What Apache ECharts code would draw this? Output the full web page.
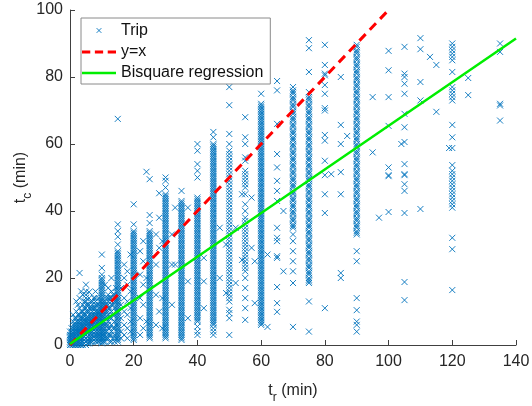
<!DOCTYPE html>
<html><head><meta charset="utf-8">
<script src="https://cdn.jsdelivr.net/npm/echarts@6/dist/echarts.min.js"></script>
<style>html,body{margin:0;padding:0;background:#fff}#c{width:532px;height:406px}</style>
</head><body><div id="c"></div>
<script>
// ---- Data: observed trip times t_c (min) grouped by reported time t_r (min) ----
const tc_x0 = [0,0.5,1,1.5,2,2.5,3,4];
const tc_x0h = [0,0.5,1,1.5,2,3,4,5];
const tc_x1 = [0,0.5,1,1.5,2,2.5,3,3.5,4,5,6,7,9];
const tc_x1h = [0,0.5,1,2,3,4,5,6,8];
const tc_x2 = [0,0.5,1,1.5,2,2.5,3,3.5,4,4.5,5,6,7,8,10,13];
const tc_x2h = [0,1,2,3,4,5,6,7,9,12];
const tc_x3 = [0,0.5,1,2,2.5,3,3.5,4,4.5,5,6,7,8,9,11,14,21.5];
const tc_x3h = [0,1,2,3,4,5,6,7,8,10,16];
const tc_x4 = [0,1,2,3,3.5,4,4.5,5,5.5,6,7,8,9,10,12,15];
const tc_x4h = [0.5,1.5,2.5,3.5,4.5,5.5,6.5,7.5,9,11,13];
const tc_x5 = [0,1,2,3,4,4.5,5,5.5,6,6.5,7,7.5,8,9,10,11,12,13,14,15,16,18];
const tc_x5h = [0.5,1.5,2.5,3.5,4.5,5.5,6.5,8,10,12];
const tc_x6 = [0.5,1,2,3,4,5,5.5,6,6.5,7,8,9,10,11,12,14,15.8];
const tc_x6h = [1,2,3,4,5,6,7,8,9,11,13];
const tc_x7 = [1,2,3,4,5,6,6.5,7,7.5,8,9,10,11,12,13];
const tc_x7h = [1.5,2.5,3.5,4.5,5.5,6.5,7.5,9,11,14];
const tc_x8 = [1,2,3,4,5,6,7,7.5,8,8.5,9,10,11,12,13,14,16];
const tc_x8h = [1,2,3,4,5,6,7,8,9,10,12];
const tc_x9 = [1,2,3,4,5,6,7,8,8.5,9,9.5,10,11,12,14];
const tc_x9h = [1.5,2.5,3.5,4.5,5.5,7,8,9,10,13];
const tc_x10 = [0.5,1,2,3,4,5,6,7,8,9,9.5,10,10.5,11,12,13,14,15,16,17,18,19,20,21,23,27];
const tc_x10b = [1.5,2.5,3.5,4.5,5.5,6.5,7.5,8.5,11.5,12.5,13.5,14.5,15.5,16.5,17.5,18.5,19.5];
const tc_x10h = [1,2,3,4,6,7,8,10,11,12];
const tc_x11 = [1,2,3,4,5,6,8,9,10,11,12,13,18];
const tc_x11h = [2,4,6,8,10,12,14];
const tc_x12 = [2,3,5,6,7,9,10,11,12,13,14,15,17];
const tc_x12h = [1,3,5,8,11,14];
const tc_x13 = [1,3,4,6,8,10,12,13,14,16,20];
const tc_x13h = [2,5,9,12,15];
const tc_x14 = [1,3,5,7,9,11,13,14,15];
const tc_x14h = [2,6,10,13,17];
const tc_x15 = [1,2,3,4,5,6,7,8,9,10,11,12,13,14,15,16,17,18,19,20,21,22,23,24,25,26,27,28,30,32.3,34,36,67.5];
const tc_x15b = [1.5,2.5,3.5,4.5,5.5,6.5,7.5,8.5,9.5,10.5,11.5,12.5,13.5,14.5,15.5,16.5,17.5,18.5,19.5,20.5,21.5,22.5,23.5,24.5,25.5,26.5,27.5];
const tc_x16 = [2,4,8,12,17];
const tc_x17 = [3,6,10,14,20,24];
const tc_x18 = [2,5,9,13,18,22];
const tc_x19 = [4,7,11,16,27];
const tc_x20 = [1.5,2,3,4,5,6,7,8,9,10,11,12,13,14,15,16,17,18,19,20,21,22,23,24,25,26,27,28,29,30,31,32,33,34,36,42];
const tc_x20b = [2.5,3.5,4.5,5.5,6.5,7.5,8.5,9.5,10.5,11.5,12.5,13.5,14.5,15.5,16.5,17.5,18.5,19.5,20.5,21.5,22.5,23.5,24.5,25.5,26.5,27.5,28.5,29.5,30.5,31.5,32.5,33.5];
const tc_x22 = [3,8,14,21,28];
const tc_x23 = [5,12,18,25,31];
const tc_x24 = [7,20,51.7];
const tc_x25 = [2,3,4,5,6,7,8,9,10,11,12,13,14,15,16,17,18,19,20,21,22,23,24,25,26,27,28,29,30,31,32,33,34,36.4,38.8,49.5];
const tc_x25b = [2.5,3.5,4.5,5.5,6.5,7.5,8.5,9.5,10.5,11.5,12.5,13.5,14.5,15.5,16.5,17.5,18.5,19.5,20.5,21.5,22.5,23.5,24.5,25.5,26.5,27.5,28.5,29.5,30.5,31.5,32.5,33.5];
const tc_x27 = [6,15,24,33];
const tc_x28 = [10,29,38,45.3];
const tc_x29 = [5,14,31];
const tc_x30 = [2,3,4,5,6,7,8,9,10,11,12,13,14,15,16,17,18,19,20,21,22,23,24,25,26,27,28,29,30,31,32,33,34,35,36,37,38,39,40,41,42,43,44,45,47,49,50];
const tc_x30b = [2.5,3.5,4.5,5.5,6.5,7.5,8.5,9.5,10.5,11.5,12.5,13.5,14.5,15.5,16.5,17.5,18.5,19.5,20.5,21.5,22.5,23.5,24.5,25.5,26.5,27.5,28.5,29.5,30.5,31.5,32.5,33.5,34.5,35.5,36.5,37.5,38.5,39.5,40.5,41.5,42.5,43.5,44.5];
const tc_x32 = [12,24,33];
const tc_x33 = [24,41];
const tc_x35 = [1.5,2,3,4,5,6,7,8,9,10,11,12,13,14,15,16,17,18,19,20,21,22,23,24,25,26,27,28,29,30,31,32,33,34,35,36,37,38,39,40,41,42,43,46];
const tc_x35b = [2.5,3.5,4.5,5.5,6.5,7.5,8.5,9.5,10.5,11.5,12.5,13.5,14.5,15.5,16.5,17.5,18.5,19.5,20.5,21.5,22.5,23.5,24.5,25.5,26.5,27.5,28.5,29.5,30.5,31.5,32.5,33.5,34.5,35.5,36.5,37.5,38.5,39.5,40.5,41.5,42.5];
const tc_x37 = [8,19,41];
const tc_x40 = [3,4,5.5,7,8,9,10,11,12,13,14,15,16,17,18,19,20,21,22,23,24,25,26,27,28,29,30,31,32,33,34,35,36,37,38,39,40,41,42,43,44,50,52,54,58,60];
const tc_x40b = [7.5,8.5,9.5,10.5,11.5,12.5,13.5,14.5,15.5,16.5,17.5,18.5,19.5,20.5,21.5,22.5,23.5,24.5,25.5,26.5,27.5,28.5,29.5,30.5,31.5,32.5,33.5,34.5,35.5,36.5,37.5,38.5,39.5,40.5,41.5,42.5,43.5];
const tc_x42 = [11,19,26];
const tc_x45 = [3,4,5,6,7,8,9,10,11,12,13,14,15,16,17,18,19,20,21,22,23,24,25,26,27,28,29,30,31,32,33,34,35,36,37,38,39,40,41,42,43,44,45,46,47,48,49,50,51,52,53,54,55,56,57,58,59,60,62,63.6];
const tc_x45b = [6.5,7.5,8.5,9.5,10.5,11.5,12.5,13.5,14.5,15.5,16.5,17.5,18.5,19.5,20.5,21.5,22.5,23.5,24.5,25.5,26.5,27.5,28.5,29.5,30.5,31.5,32.5,33.5,34.5,35.5,36.5,37.5,38.5,39.5,40.5,41.5,42.5,43.5,44.5,45.5,46.5,47.5,48.5,49.5,50.5,51.5,52.5,53.5,54.5,55.5,56.5,57.5,58.5,59.5];
const tc_x47 = [20,35];
const tc_x49 = [15.5,30];
const tc_x50 = [3,8,9.5,10.5,13,14,15,16,17,18,19,20,21,22,23,24,25,26,27,28,29,30,31,32,33,34,35,36,37,38,39,40,41,42,43,44,45,46,47,48,49,50,51,52,53,54,55,56,57,58,60,63,71.6,77];
const tc_x52 = [18.5,35];
const tc_x54 = [25.4,45];
const tc_x55 = [7.5,11,14,17,20,22,23,24,25,26,27,28,29,30,31,32,33,34,35,36,37,38,40,42,45,47,48,49,50,51,52,55,56,60,62,68];
const tc_x57 = [29,44];
const tc_x58 = [12.5,25];
const tc_x60 = [6,7,8,9,10,11,12,13,14,15,16,17,18,19,20,21,22,23,24,25,26,27,28,29,30,31,32,33,34,35,36,37,38,39,40,41,42,43,44,45,46,47,48,49,50,51,52,53,54,55,56,57,58,59,60,61,62,63,64,65,66,67,68,69,70,71,72,75];
const tc_x60b = [6.5,7.5,8.5,9.5,10.5,11.5,12.5,13.5,14.5,15.5,16.5,17.5,18.5,19.5,20.5,21.5,22.5,23.5,24.5,25.5,26.5,27.5,28.5,29.5,30.5,31.5,32.5,33.5,34.5,35.5,36.5,37.5,38.5,39.5,40.5,41.5,42.5,43.5,44.5,45.5,46.5,47.5,48.5,49.5,50.5,51.5,52.5,53.5,54.5,55.5,56.5,57.5,58.5,59.5,60.5,61.5,62.5,63.5,64.5,65.5,66.5,67.5,68.5,69.5,70.5,71.5];
const tc_x62 = [5.4,27];
const tc_x65 = [9.9,12.5,17.3,26,26.5,31,32,35,43,46,49,53,57,66,76,78.8];
const tc_x67 = [22,40];
const tc_x70 = [5.4,18.5,22,25,28,31,33,35,36,37,38,39,40,41,42,43,44,45,46,47,48,49,50,51,52,53,54,55,56,57,58,59,60,61,62,63,64,65,66,67,68,69,70,71,72,73,74,75,76,77];
const tc_x70b = [35.5,37.5,39.5,41.5,43.5,45.5,47.5,49.5,51.5,53.5,55.5,57.5,59.5,61.5,63.5,65.5,67.5,69.5,71.5,73.5,75.5];
const tc_x75 = [4,13,18.5,19,20,21,22,23,24,25,26,27,28,29,30,31,32,33,34,35,36,37,38,39,40,41,42,43,44,45,46,47,48,49,50,51,52,53,54,55,56,57,58,59,60,61,62,63,64,65,66,67,68,69,70,71,72,73,74,75.5,81.5,88.6,91];
const tc_x75b = [19.5,21.5,23.5,25.5,27.5,29.5,31.5,33.5,35.5,37.5,39.5,41.5,43.5,45.5,47.5,49.5,51.5,53.5,55.5,57.5,59.5,61.5,63.5,65.5,67.5,69.5,71.5,73.5];
const tc_x80 = [11,39.4,45,50.7,55,61,62.7,70,70.7,75,77.6,80.5,81,83.6,89.6];
const tc_x82 = [51];
const tc_x85 = [20,21.5,45,51.6,60,65.7,80];
const tc_x87 = [62.4];
const tc_x90 = [4,6,7,10.4,14,25,28,33,34,35,36,37,38,39,40,41,42,43,44,45,46,47,48,49,50,51,52,53,54,55,56,57,58,59,60,61,62,63,64,65,66,67,68,69,70,71,72,73,74,75,76,77,78,79,80,81,82,83,84,85,86,87,88,89,89.6];
const tc_x90b = [33.5,35.5,37.5,39.5,41.5,43.5,45.5,47.5,49.5,51.5,53.5,55.5,57.5,59.5,61.5,63.5,65.5,67.5,69.5,71.5,73.5,75.5,77.5,79.5,81.5,83.5,85.5,87.5];
const tc_x95 = [57.5,74];
const tc_x97 = [38];
const tc_x100 = [39.7,50.4,50.7,53,65.4,74,82,87.8];
const tc_x104 = [60];
const tc_x105 = [13.4,18.8,39.4,46,48,50.7,51,54,60.6,65,69,75,78,80,81,89];
const tc_x110 = [40.6,73,78.5,88.3,91.6];
const tc_x113 = [86];
const tc_x115 = [69.6,83.6];
const tc_x119 = [58.8];
const tc_x120 = [16.4,28.6,32,41,42,43,44,45,46,47,48,49,50,51,52,53.7,58.8,62,65.7,73,74,75,76,77,81.5,85,86,87,88,89,90];
const tc_x125 = [74.6,79.7];
const tc_x135 = [67,71.5,72,87.5,90];

const trValues = [0,0.5,1,1.5,2,2.5,3,3.5,4,4.5,5,5.5,6,6.5,7,7.5,8,8.5,9,9.5,10,10,10.5,11,11.5,12,12.5,13,13.5,14,14.5,15,15,16,17,18,19,20,20,22,23,24,25,25,27,28,29,30,30,32,33,35,35,37,40,40,42,45,45,47,49,50,52,54,55,57,58,60,60,62,65,67,70,70,75,75,80,82,85,87,90,90,95,97,100,104,105,110,113,115,119,120,125,135];
const tcGroups = [tc_x0,tc_x0h,tc_x1,tc_x1h,tc_x2,tc_x2h,tc_x3,tc_x3h,tc_x4,tc_x4h,tc_x5,tc_x5h,tc_x6,tc_x6h,tc_x7,tc_x7h,tc_x8,tc_x8h,tc_x9,tc_x9h,tc_x10,tc_x10b,tc_x10h,tc_x11,tc_x11h,tc_x12,tc_x12h,tc_x13,tc_x13h,tc_x14,tc_x14h,tc_x15,tc_x15b,tc_x16,tc_x17,tc_x18,tc_x19,tc_x20,tc_x20b,tc_x22,tc_x23,tc_x24,tc_x25,tc_x25b,tc_x27,tc_x28,tc_x29,tc_x30,tc_x30b,tc_x32,tc_x33,tc_x35,tc_x35b,tc_x37,tc_x40,tc_x40b,tc_x42,tc_x45,tc_x45b,tc_x47,tc_x49,tc_x50,tc_x52,tc_x54,tc_x55,tc_x57,tc_x58,tc_x60,tc_x60b,tc_x62,tc_x65,tc_x67,tc_x70,tc_x70b,tc_x75,tc_x75b,tc_x80,tc_x82,tc_x85,tc_x87,tc_x90,tc_x90b,tc_x95,tc_x97,tc_x100,tc_x104,tc_x105,tc_x110,tc_x113,tc_x115,tc_x119,tc_x120,tc_x125,tc_x135];

const identityTr = [0, 100];
const identityTc = [0, 100];
const bisquareTr = [0, 140];
const bisquareTc = [0.3, 91.5];

const xTicks = [0, 20, 40, 60, 80, 100, 120, 140];
const yTicks = [0, 20, 40, 60, 80, 100];

// ---- Build ----
const tripPoints = [];
trValues.forEach((x, i) => tcGroups[i].forEach(y => tripPoints.push([x, y])));

const FONT = '"Liberation Sans", Arial, Helvetica, sans-serif';
const TXT = '#262626';
const AXC = '#404040';
const XMARK = 'path://M0 0L10 10M10 0L0 10';
const XMARK_LEG = 'path://M-12 -12M22 22M0 0L10 10M10 0L0 10';
const DASH_LEG = 'path://M0 0H9V3H0ZM14 0H23V3H14ZM28 0H37V3H28Z';
const SOLID_LEG = 'path://M0 0H37V2.6H0Z';
const BLUE = '#0072BD';
const RED = '#ff0000';
const GREEN = '#00ee00';

const chart = echarts.init(document.getElementById('c'), null, {renderer: 'canvas'});
chart.setOption({
  animation: false,
  backgroundColor: '#ffffff',
  grid: {left: 70, right: 16, top: 10, bottom: 61, containLabel: false, outerBoundsMode: 'none'},
  legend: {
    orient: 'vertical', left: 81, top: 18,
    padding: [4, 7, 3, 1], itemGap: 5, itemWidth: 34, itemHeight: 16,
    borderColor: '#8a8a8a', borderWidth: 1, backgroundColor: '#ffffff', borderRadius: 0,
    textStyle: {fontFamily: FONT, fontSize: 16, color: '#111'},
    data: [
      {name: 'Trip', icon: XMARK_LEG, itemStyle: {color: BLUE, borderColor: BLUE, borderWidth: 1}},
      {name: 'y=x', icon: DASH_LEG, itemStyle: {color: RED, borderWidth: 0}},
      {name: 'Bisquare regression', icon: SOLID_LEG, itemStyle: {color: GREEN, borderWidth: 0}}
    ]
  },
  xAxis: {
    type: 'value', min: xTicks[0], max: xTicks[xTicks.length - 1], interval: xTicks[1] - xTicks[0],
    name: 't{s|r} (min)', nameLocation: 'middle', nameGap: 33, nameMoveOverlap: false,
    nameTextStyle: {fontFamily: FONT, fontSize: 16, color: TXT,
      rich: {s: {fontFamily: FONT, fontSize: 12, color: TXT, lineHeight: 26, verticalAlign: 'bottom'}}},
    axisLine: {show: true, onZero: false, lineStyle: {color: AXC, width: 1}},
    axisTick: {show: true, inside: true, length: 5, lineStyle: {color: AXC}},
    axisLabel: {fontFamily: FONT, fontSize: 16, color: TXT, margin: 9},
    splitLine: {show: false}
  },
  yAxis: {
    type: 'value', min: yTicks[0], max: yTicks[yTicks.length - 1], interval: yTicks[1] - yTicks[0],
    name: 't{s|c} (min)', nameLocation: 'middle', nameGap: 36, nameRotate: 90, nameMoveOverlap: false,
    nameTextStyle: {fontFamily: FONT, fontSize: 16, color: TXT,
      rich: {s: {fontFamily: FONT, fontSize: 12, color: TXT, lineHeight: 26, verticalAlign: 'bottom'}}},
    axisLine: {show: true, onZero: false, lineStyle: {color: AXC, width: 1}},
    axisTick: {show: true, inside: true, length: 5, lineStyle: {color: AXC}},
    axisLabel: {fontFamily: FONT, fontSize: 16, color: TXT, margin: 7},
    splitLine: {show: false}
  },
  series: [
    {
      name: 'Trip', type: 'scatter', data: tripPoints,
      symbol: XMARK, symbolSize: 6,
      itemStyle: {color: 'transparent', borderColor: BLUE, borderWidth: 1, opacity: 0.9},
      emphasis: {disabled: true}, z: 2
    },
    {
      name: 'y=x', type: 'line', data: identityTr.map((x, i) => [x, identityTc[i]]),
      symbol: 'none', lineStyle: {color: RED, width: 3, type: [9, 6]},
      itemStyle: {color: RED}, z: 3
    },
    {
      name: 'Bisquare regression', type: 'line', data: bisquareTr.map((x, i) => [x, bisquareTc[i]]),
      symbol: 'none', lineStyle: {color: GREEN, width: 2.5},
      itemStyle: {color: GREEN}, z: 4
    }
  ]
});
</script></body></html>
